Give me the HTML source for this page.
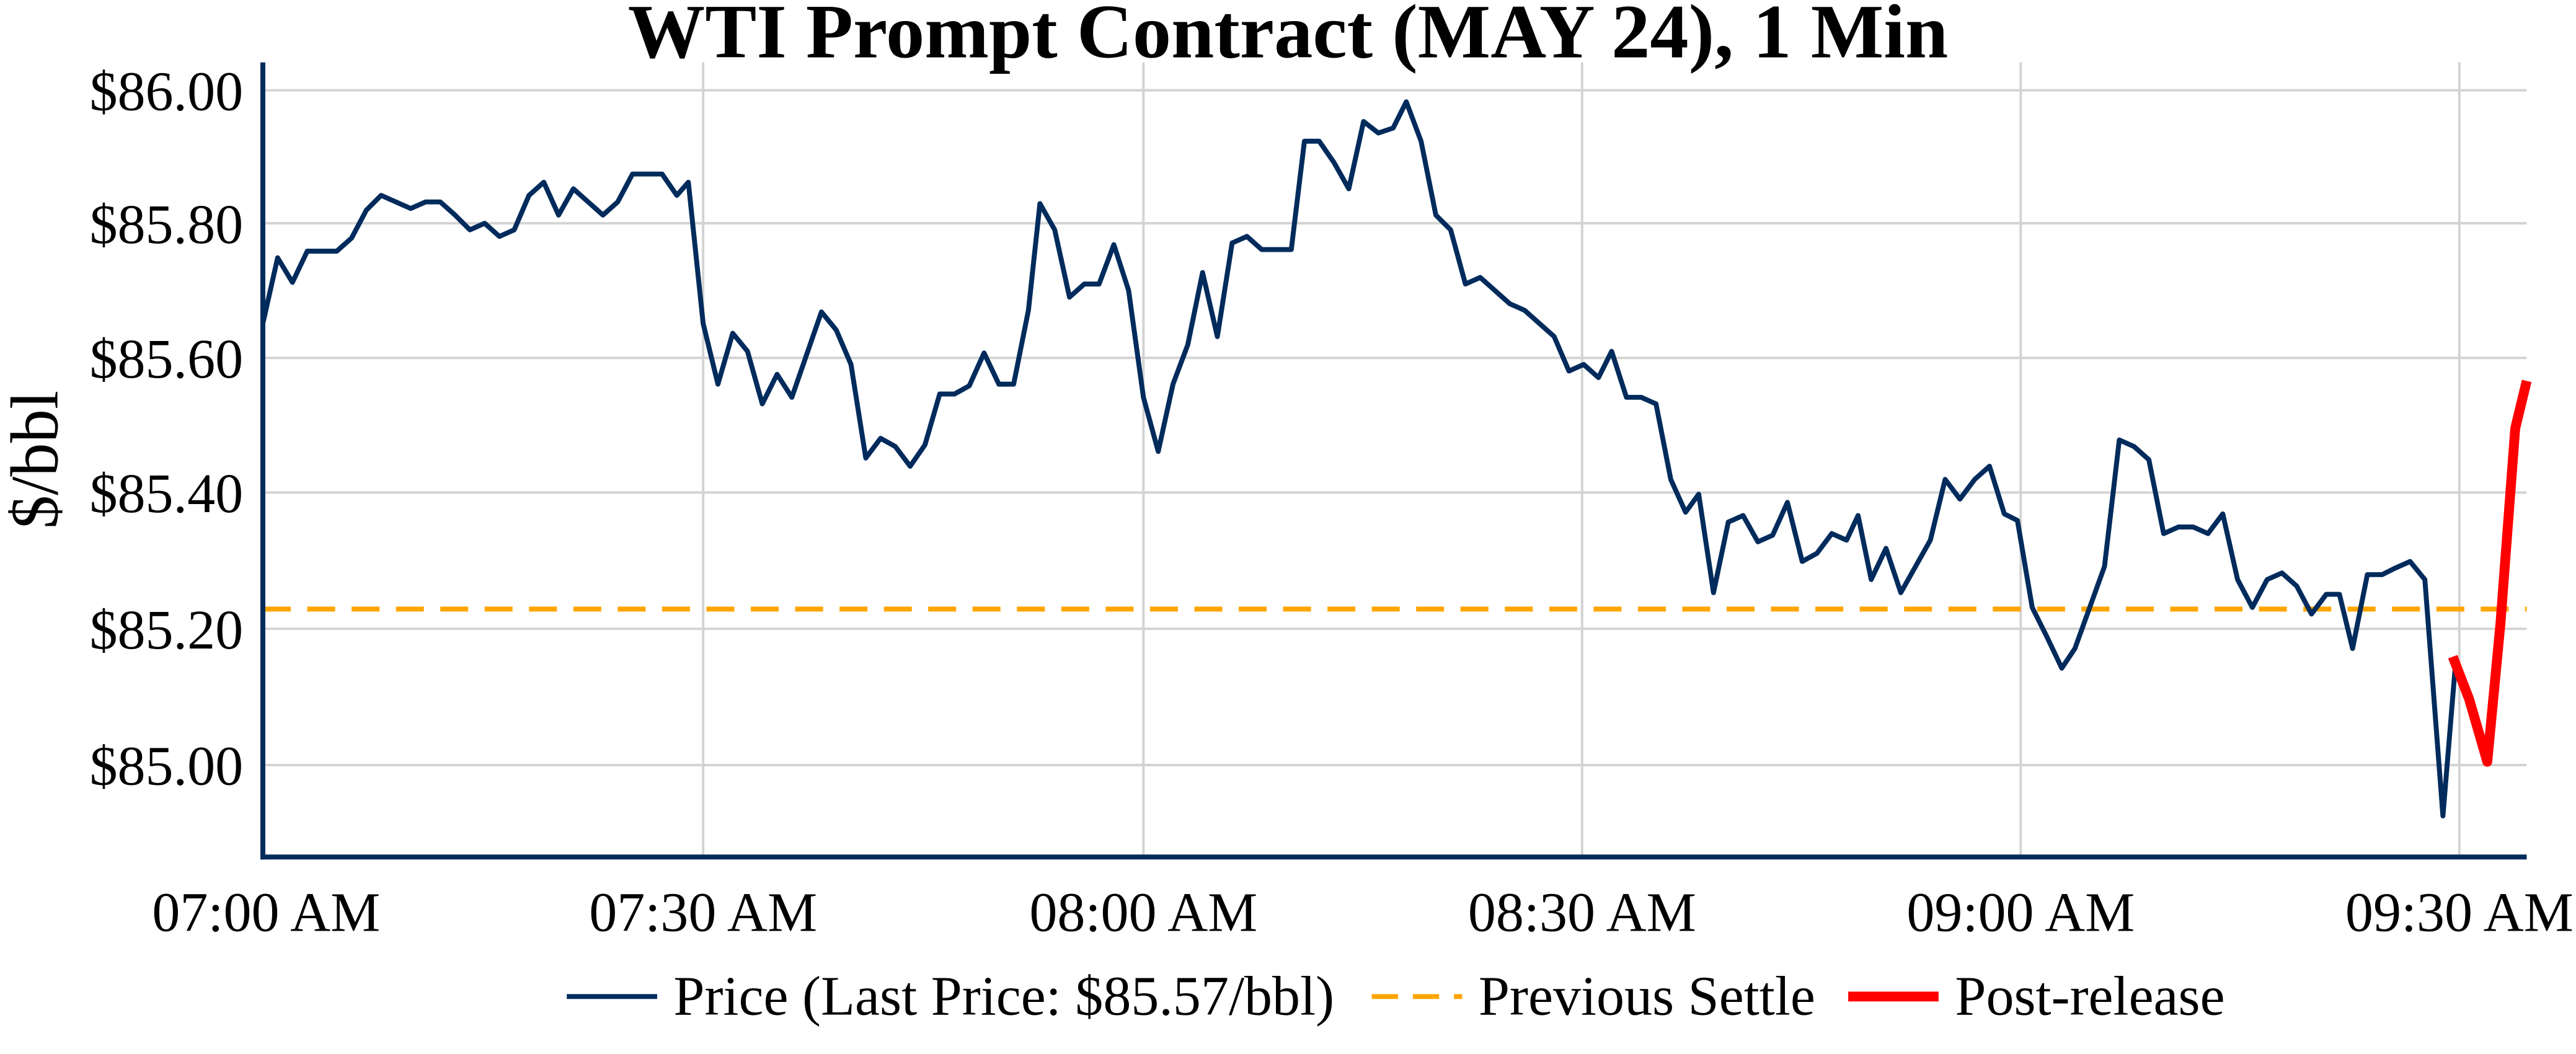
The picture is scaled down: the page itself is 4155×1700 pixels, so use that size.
<!DOCTYPE html>
<html><head><meta charset="utf-8"><style>
html,body{margin:0;padding:0;background:#fff;}
svg{display:block;}
text{font-family:"Liberation Serif",serif;fill:#000;}
</style></head><body>
<svg width="4155" height="1700" viewBox="0 0 1568 642" preserveAspectRatio="none" xmlns="http://www.w3.org/2000/svg">
<rect width="1568" height="642" fill="#fff"/>
<text x="784" y="35" text-anchor="middle" font-size="47" font-weight="bold">WTI Prompt Contract (MAY 24), 1 Min</text>
<g stroke="#d3d3d3" stroke-width="1.5">
<line x1="160" x2="1538" y1="55" y2="55"/><line x1="160" x2="1538" y1="136" y2="136"/>
<line x1="160" x2="1538" y1="218" y2="218"/><line x1="160" x2="1538" y1="300" y2="300"/>
<line x1="160" x2="1538" y1="383" y2="383"/><line x1="160" x2="1538" y1="466" y2="466"/>
<line x1="428" x2="428" y1="38" y2="522"/><line x1="696" x2="696" y1="38" y2="522"/>
<line x1="963" x2="963" y1="38" y2="522"/><line x1="1230" x2="1230" y1="38" y2="522"/>
<line x1="1497" x2="1497" y1="38" y2="522"/>
</g>
<line x1="160" x2="1538" y1="371" y2="371" stroke="#ffa500" stroke-width="3" stroke-dasharray="17,10"/>
<polyline fill="none" stroke="#002b5c" stroke-width="3" stroke-linejoin="round" points="160,197 169,157 178,172 187,153 196,153 205,153 214,145 223,128 232,119 241,123 250,127 259,123 268,123 277,131 286,140 295,136 304,144 313,140 322,119 331,111 340,131 349,115 358,123 367,131 376,123 385,106 394,106 403,106 412,119 419,111 428,197 437,234 446,203 455,214 464,246 473,228 482,242 491,216 500,190 509,201 518,222 527,279 536,267 545,272 554,284 563,271 572,240 581,240 590,235 599,215 608,234 617,234 626,189 633,124 642,140 651,181 660,173 669,173 678,149 687,177 696,242 705,275 714,234 723,210 732,166 741,205 750,148 759,144 768,152 777,152 786,152 794,86 803,86 812,99 821,115 830,74 839,81 848,78 856,62 865,86 874,131 883,140 892,173 901,169 910,177 919,185 928,189 937,197 946,205 955,226 964,222 973,230 981,214 990,242 999,242 1008,246 1017,292 1026,312 1034,301 1043,361 1052,318 1061,314 1070,330 1079,326 1088,306 1097,342 1106,337 1115,325 1124,329 1131,314 1139,353 1148,334 1157,361 1166,345 1175,329 1184,292 1193,304 1202,292 1211,284 1220,313 1228,317 1237,370 1246,388 1255,407 1263,395 1272,370 1281,345 1290,268 1299,272 1308,280 1317,325 1326,321 1335,321 1344,325 1353,313 1362,353 1371,370 1380,353 1389,349 1398,357 1407,374 1416,362 1424,362 1432,395 1441,350 1450,350 1458,346 1467,342 1476,353 1487,497 1495,400"/>
<polyline fill="none" stroke="#ff0000" stroke-width="6" stroke-linejoin="round" points="1493,400 1503,426 1514,464 1522,380 1531,261 1538,232"/>
<line x1="160" x2="160" y1="38" y2="523.5" stroke="#002b5c" stroke-width="3"/>
<line x1="158.5" x2="1538" y1="522" y2="522" stroke="#002b5c" stroke-width="3"/>
<g font-size="34" text-anchor="end">
<text x="148" y="67">$86.00</text><text x="148" y="148">$85.80</text>
<text x="148" y="230">$85.60</text><text x="148" y="312">$85.40</text>
<text x="148" y="395">$85.20</text><text x="148" y="478">$85.00</text>
</g>
<g font-size="34" text-anchor="middle">
<text x="162" y="567">07:00 AM</text><text x="428" y="567">07:30 AM</text>
<text x="696" y="567">08:00 AM</text><text x="963" y="567">08:30 AM</text>
<text x="1230" y="567">09:00 AM</text><text x="1497" y="567">09:30 AM</text>
</g>
<text transform="translate(35,280) rotate(-90)" font-size="41" text-anchor="middle">$/bbl</text>
<line x1="345" x2="400" y1="607" y2="607" stroke="#002b5c" stroke-width="3"/>
<text x="410" y="618" font-size="34">Price (Last Price: $85.57/bbl)</text>
<line x1="835" x2="890" y1="607" y2="607" stroke="#ffa500" stroke-width="3" stroke-dasharray="16,9"/>
<text x="900" y="618" font-size="34">Previous Settle</text>
<line x1="1125" x2="1180" y1="607" y2="607" stroke="#ff0000" stroke-width="6"/>
<text x="1190" y="618" font-size="34">Post-release</text>
</svg>
</body></html>
